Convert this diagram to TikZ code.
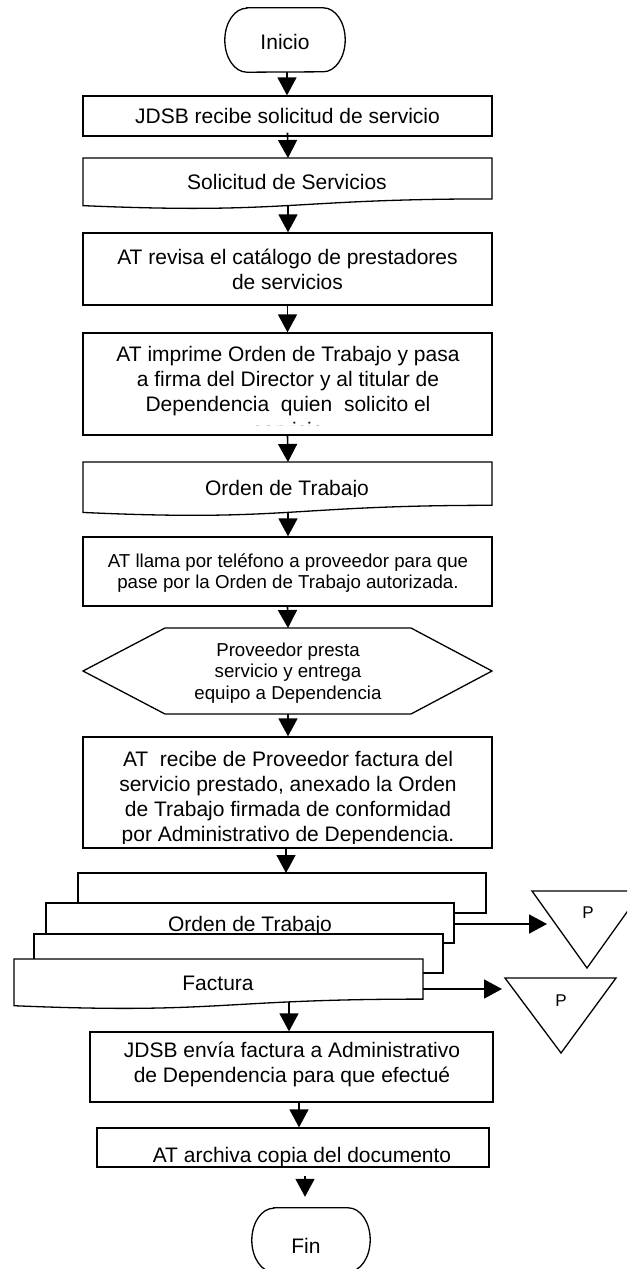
\documentclass[tikz,border=0pt]{standalone}
\usepackage{fontspec}
\setmainfont{Liberation Sans}
\usetikzlibrary{arrows.meta}
\newcommand\fcDoc[5][]{%
  \draw[shp,#1] (#2,-#3) -- ({#2+#4},-#3) -- ({#2+#4},{-#3-0.802*#5})
    .. controls ({#2+0.5*#4},{-#3-0.802*#5}) and ({#2+0.5*#4},{-#3-1.1075*#5}) .. (#2,{-#3-0.934*#5}) -- cycle;}
\begin{document}
\begin{tikzpicture}[x=1pt,y=1pt,
  shp/.style={draw=black, line width=1.3pt, fill=white},
  box/.style={shp, inner sep=0pt, align=center, font=\fontsize{21}{25}\selectfont},
  txt/.style={inner sep=0pt, align=center, font=\fontsize{21}{25}\selectfont},
  ln/.style={inner sep=0pt, anchor=base, font=\fontsize{21}{25}\selectfont},
  smalltxt/.style={inner sep=0pt, align=center, font=\fontsize{18.7}{21.7}\selectfont},
  ptxt/.style={inner sep=0pt, font=\fontsize{17}{20}\selectfont},
  conn/.style={line width=1.6pt, -{Triangle[width=19pt,length=18pt]}}
]
\useasboundingbox (0,0) rectangle (627,-1269);
\clip (0,0) rectangle (627,-1269);

% Inicio
\node[inner sep=0pt, minimum width=120pt, minimum height=64pt] (inicio) at (285,-40) {};
\draw[shp] ([xshift=22pt]inicio.north west) -- ([xshift=-22pt]inicio.north east)
  arc[start angle=90, end angle=-90, x radius=22pt, y radius=32pt]
  -- ([xshift=22pt]inicio.south west)
  arc[start angle=270, end angle=90, x radius=22pt, y radius=32pt] -- cycle;
\node[txt] (tinicio) at (285,-42) {Inicio};

% Box 1
\node[box, minimum width=409pt, minimum height=40pt] (b1) at (287.5,-116) {JDSB recibe solicitud de servicio};

% Doc 1
\fcDoc{83}{158}{409}{51}
\node[txt] (d1) at (287,-182) {Solicitud de Servicios};
\coordinate (d1top) at (288,-158);
\coordinate (d1bot) at (288,-205.6);

% Box 3
\node[box, minimum width=409pt, minimum height=72pt] (b3) at (287.5,-269) {AT revisa el cat\'alogo de prestadores\\de servicios};

% Box 4 (last line clipped)
\node[shp, inner sep=0pt, minimum width=409pt, minimum height=102pt] (b4) at (287.5,-384) {};
\node[ln] (t4a) at (288,-361) {AT imprime Orden de Trabajo y pasa};
\node[ln] (t4b) at (288,-386) {a firma del Director y al titular de};
\node[ln] (t4c) at (288,-411) {Dependencia~ quien~ solicito el};
\begin{scope}
  \clip (83,-333) rectangle (492,-425.3);
  \node[ln] (t4d) at (288,-437) {servicio};
\end{scope}

% Doc 2
\fcDoc{83}{462}{409}{54}
\begin{scope}
  \clip (83,-462) rectangle (492,-496.5);
  \node[ln] (d2) at (287,-495) {Orden de Trabajo};
\end{scope}
\coordinate (d2top) at (288,-462);
\coordinate (d2bot) at (288,-512.4);

% Box 5
\node[shp, inner sep=0pt, minimum width=409pt, minimum height=69pt] (b5) at (287.5,-571.5) {};
\node[smalltxt] (t5) at (288,-573) {AT llama por tel\'efono a proveedor para que\\pase por la Orden de Trabajo autorizada.};

% Hexagon
\draw[shp] (83,-671) -- (165,-628) -- (411,-628) -- (492,-671) -- (411,-714) -- (165,-714) -- cycle;
\node[smalltxt] (hex) at (288,-673) {Proveedor presta\\servicio y entrega\\equipo a Dependencia};
\coordinate (hextop) at (288,-628);
\coordinate (hexbot) at (288,-714);

% Box 6 (last line clipped)
\node[shp, inner sep=0pt, minimum width=409pt, minimum height=111pt] (b6) at (287.5,-792.5) {};
\node[ln] (t6a) at (288,-766) {AT~ recibe de Proveedor factura del};
\node[ln] (t6b) at (288,-791) {servicio prestado, anexado la Orden};
\node[ln] (t6c) at (288,-816) {de Trabajo firmada de conformidad};
\begin{scope}
  \clip (83,-737) rectangle (492,-843.5);
  \node[ln] (t6d) at (288,-841) {por Administrativo de Dependencia.};
\end{scope}

% Multi-document stack
\draw[shp] (78,-873) rectangle (486,-913);
\coordinate (mdtop) at (286,-873);
\draw[shp] (46,-903) rectangle (454,-943);
\node[ln] (md3) at (250,-931) {Orden de Trabajo};
\coordinate (md3r) at (454,-924);
\draw[shp] (34,-934) rectangle (443,-973);
\fcDoc{14}{959}{409}{50}
\node[ln] (md1) at (218,-990) {Factura};
\coordinate (md1r) at (423,-989);
\coordinate (md1bot) at (289,-1002);

% Off-page storage triangles
\draw[shp] (532,-891) -- (642,-891) -- (587,-968) -- cycle;
\node[ptxt] (p1) at (588,-913) {P};
\coordinate (p1in) at (547,-924);
\draw[shp] (505,-978) -- (616,-978) -- (561,-1053) -- cycle;
\node[ptxt] (p2) at (561,-1001) {P};
\coordinate (p2in) at (502,-989);

% Box 7
\node[shp, inner sep=0pt, minimum width=403pt, minimum height=70pt] (b7) at (291.5,-1067) {};
\node[txt] (t7) at (292,-1064.5) {JDSB env\'ia factura a Administrativo\\de Dependencia para que efectu\'e};

% Box 8 (text clipped)
\node[shp, inner sep=0pt, minimum width=392pt, minimum height=39pt] (b8) at (293,-1147.5) {};
\begin{scope}
  \clip (97,-1128) rectangle (489,-1165);
  \node[ln] (t8) at (302,-1162) {AT archiva copia del documento};
\end{scope}

% Fin
\node[inner sep=0pt, minimum width=118pt, minimum height=64pt] (fin) at (311,-1240) {};
\draw[shp] ([xshift=22pt]fin.north west) -- ([xshift=-22pt]fin.north east)
  arc[start angle=90, end angle=-90, x radius=22pt, y radius=32pt]
  -- ([xshift=22pt]fin.south west)
  arc[start angle=270, end angle=90, x radius=22pt, y radius=32pt] -- cycle;
\node[txt] (tfin) at (306,-1246) {Fin};

% Connectors
\draw[conn] ([xshift=2pt]inicio.south) -- ([xshift=2pt]inicio.south |- b1.north);
\draw[conn] ([yshift=4pt]b1.south) -- (d1top);
\draw[conn] (d1bot) -- (d1bot |- b3.north);
\draw[conn] (b3.south) -- (b3.south |- b4.north);
\draw[conn] (b4.south) -- (d2top);
\draw[conn] (d2bot) -- (d2bot |- b5.north);
\draw[conn] (b5.south) -- (hextop);
\draw[conn] (hexbot) -- (hexbot |- b6.north);
\draw[conn] (b6.south -| mdtop) -- (mdtop);
\draw[conn] (md3r) -- (p1in);
\draw[conn] (md1r) -- (p2in);
\draw[conn] (md1bot) -- (md1bot |- b7.north);
\draw[conn] (b7.south -| 299,0) -- (b8.north -| 299,0);
\draw[conn, shorten <=8pt, shorten >=11pt] (b8.south -| 305,0) -- (fin.north -| 305,0);
\end{tikzpicture}
\end{document}
